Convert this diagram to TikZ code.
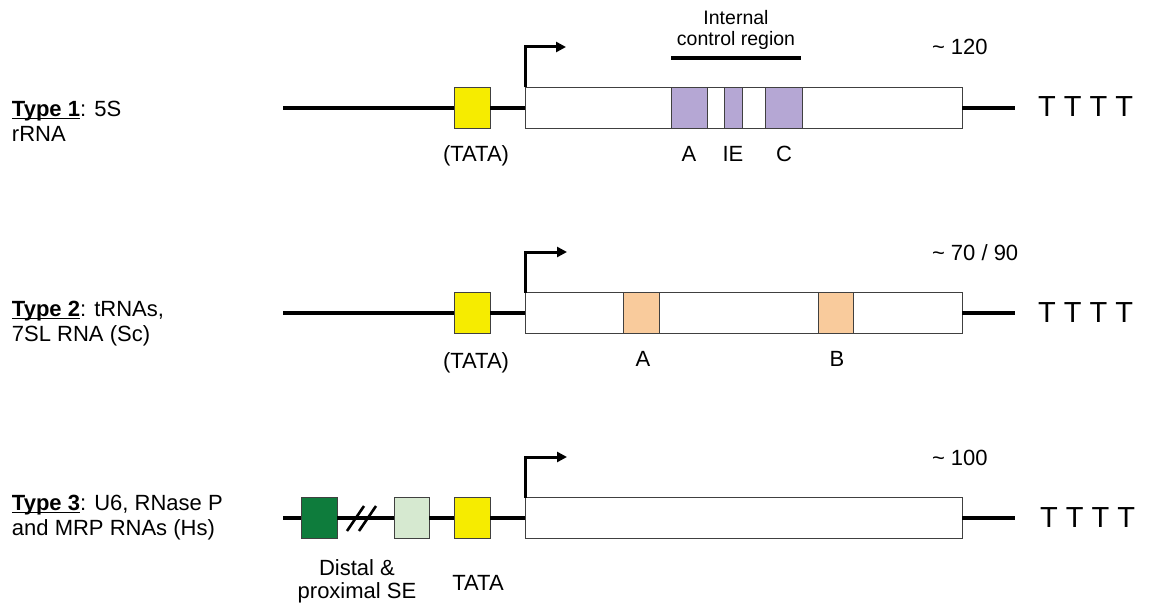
\documentclass[tikz,border=0pt]{standalone}
\usepackage{fontspec}
\setmainfont{Liberation Sans}
\usetikzlibrary{arrows.meta}
\definecolor{tatay}{RGB}{246,236,0}
\definecolor{icr}{RGB}{181,167,212}
\definecolor{peach}{RGB}{249,203,156}
\definecolor{dgreen}{RGB}{14,124,60}
\definecolor{lgreen}{RGB}{214,233,208}
\newcommand{\myul}[1]{\setbox0\hbox{#1}\rlap{\rule[-2.8pt]{\wd0}{1.5pt}}\box0}
\begin{document}
\begin{tikzpicture}[x=1pt,y=-1pt,
  every node/.style={inner sep=0pt, outer sep=0pt},
  dna/.style={line width=3.2pt},
  gene/.style={draw=black!75, line width=1pt, fill=white, minimum width=437pt, minimum height=41pt, anchor=west},
  elem/.style={draw=black!75, line width=1pt, minimum height=41pt},
  tss/.style={line width=3pt, -{Triangle[length=10pt,width=10pt]}},
  lbl/.style={font=\fontsize{22}{23}\selectfont},
  num/.style={font=\fontsize{22}{24}\selectfont, anchor=base west},
  term/.style={font=\fontsize{29}{30}\selectfont, anchor=base west},
  typ/.style={font=\fontsize{22}{25}\selectfont, align=left, anchor=north west},
  slash/.style={line width=2.6pt},
]
\useasboundingbox (0,0) rectangle (1157,607);

% ---------- Type 1 ----------
\node[typ] (ty1) at (12,101) {\myul{\textbf{Type 1}}: 5S\\rRNA};
\node[gene] (g1) at (525,108) {};
\node[elem, fill=tatay, minimum width=36pt] (t1) at (472,108) {};
\node[elem, fill=icr, minimum width=36pt] (a1) at (689,108) {};
\node[elem, fill=icr, minimum width=18pt] (ie1) at (733,108) {};
\node[elem, fill=icr, minimum width=37pt] (c1) at (783.5,108) {};
\coordinate (l1) at (283,108);
\coordinate (r1) at (1015,108);
\draw[dna] (l1) -- (t1) -- (g1) -- (r1);
\coordinate (p1) at (566,47);
\draw[tss] (g1.north west) |- (p1);
\coordinate (icrL) at (671,58);
\coordinate (icrR) at (801,58);
\draw[dna] (icrL) -- (icrR);
\node[font=\fontsize{19.5}{21}\selectfont, align=center, anchor=south] (icrt) at (736,50) {Internal\\control region};
\node[lbl, anchor=base] (tl1) at (476,162) {(TATA)};
\node[lbl, anchor=base] (la1) at (689,162) {A};
\node[lbl, anchor=base] (lie1) at (733,162) {IE};
\node[lbl, anchor=base] (lc1) at (784,162) {C};
\node[num] (n1) at (932,55) {\textasciitilde{} 120};
\node[term] (tt1) at (1038,117) {T T T T};

% ---------- Type 2 ----------
\node[typ] (ty2) at (12,301) {\myul{\textbf{Type 2}}: tRNAs,\\7SL RNA (Sc)};
\node[gene] (g2) at (525,313) {};
\node[elem, fill=tatay, minimum width=36pt] (t2) at (472,313) {};
\node[elem, fill=peach, minimum width=36pt] (a2) at (641,313) {};
\node[elem, fill=peach, minimum width=35pt] (b2) at (835.5,313) {};
\coordinate (l2) at (283,313);
\coordinate (r2) at (1015,313);
\draw[dna] (l2) -- (t2) -- (g2) -- (r2);
\coordinate (p2) at (567,252);
\draw[tss] (g2.north west) |- (p2);
\node[lbl, anchor=base] (tl2) at (476,368) {(TATA)};
\node[lbl, anchor=base] (la2) at (643,366) {A};
\node[lbl, anchor=base] (lb2) at (837,366) {B};
\node[num] (n2) at (932,260) {\textasciitilde{} 70 / 90};
\node[term] (tt2) at (1038,322) {T T T T};

% ---------- Type 3 ----------
\node[typ] (ty3) at (12,495) {\myul{\textbf{Type 3}}: U6, RNase P\\and MRP RNAs (Hs)};
\node[gene] (g3) at (525,518) {};
\node[elem, fill=dgreen, minimum width=36pt] (dg3) at (319,518) {};
\node[elem, fill=lgreen, minimum width=35pt] (lg3) at (411.5,518) {};
\node[elem, fill=tatay, minimum width=36pt] (t3) at (472,518) {};
\coordinate (l3) at (283,518);
\coordinate (r3) at (1015,518);
\draw[dna] (l3) -- (dg3) -- (lg3) -- (t3) -- (g3) -- (r3);
\coordinate (s1a) at (347,531);
\coordinate (s1b) at (364,506);
\coordinate (s2a) at (359,531);
\coordinate (s2b) at (376,506);
\draw[slash] (s1a) -- (s1b);
\draw[slash] (s2a) -- (s2b);
\coordinate (p3) at (567,457);
\draw[tss] (g3.north west) |- (p3);
\node[lbl, align=center, anchor=north] (se3) at (357,560) {Distal \&\\proximal SE};
\node[lbl, anchor=base] (tl3) at (478,590) {TATA};
\node[num] (n3) at (932,465) {\textasciitilde{} 100};
\node[term] (tt3) at (1040,527) {T T T T};
\end{tikzpicture}
\end{document}
